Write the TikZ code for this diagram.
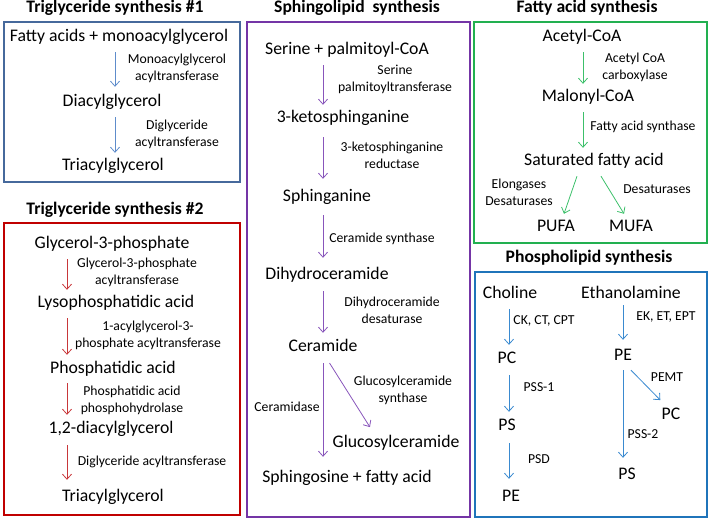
\documentclass[tikz,border=0pt]{standalone}
\usepackage{fontspec}
\setmainfont{Carlito}
\usetikzlibrary{arrows.meta}

\definecolor{tgone}{HTML}{46699C}
\definecolor{tgonearr}{HTML}{5E8CCB}
\definecolor{tgtwo}{HTML}{C00000}
\definecolor{tgtwoarr}{HTML}{C8373A}
\definecolor{sphing}{HTML}{7435A6}
\definecolor{sphingarr}{HTML}{8855BB}
\definecolor{fasyn}{HTML}{22B050}
\definecolor{fasynarr}{HTML}{3CC06A}
\definecolor{phospho}{HTML}{1F74BA}
\definecolor{phosphoarr}{HTML}{3A8AD0}

\begin{document}
\begin{tikzpicture}[x=1pt,y=-1pt,
   cmpd/.style={font=\fontsize{17.7}{21}\selectfont, inner xsep=0pt, inner ysep=6pt, text height=12pt, text depth=4pt},
   enz/.style={font=\fontsize{13.7}{17}\selectfont, align=center, inner sep=0pt},
   ttl/.style={font=\fontsize{17.6}{21}\selectfont\bfseries, inner sep=0pt},
   panel/.style={line width=2.3pt},
   rx/.style={-{Straight Barb[length=5pt,width=9pt]}, line width=0.8pt}]
   \useasboundingbox (0,0) rectangle (709,518);

   % triglyceride synthesis #1
   \node[ttl] (t1) at (115,8) {Triglyceride synthesis \#1};
   \draw[panel, tgone] (4,22) rectangle (240,182);
   \node[cmpd] (fa)  at (119,38)  {Fatty acids + monoacylglycerol};
   \node[cmpd] (dag) at (112,103) {Diacylglycerol};
   \node[cmpd] (tag) at (113,167) {Triacylglycerol};
   \node[enz] (mgat) at (177,68)  {Monoacylglycerol\\acyltransferase};
   \node[enz] (dgat) at (177,134) {Diglyceride\\acyltransferase};
   \coordinate (a1) at (115,0);
   \draw[rx, tgonearr, shorten >=2pt] (fa.south -| a1) -- (dag.north -| a1);
   \draw[rx, tgonearr] (dag.south -| a1) -- (tag.north -| a1);

   % triglyceride synthesis #2
   \node[ttl] (t2) at (115,210) {Triglyceride synthesis \#2};
   \draw[panel, tgtwo] (4,223) rectangle (240,515);
   \node[cmpd] (gp)   at (112,245) {Glycerol-3-phosphate};
   \node[cmpd] (lpa)  at (116,304) {Lysophosphatidic acid};
   \node[cmpd] (pa)   at (113,369) {Phosphatidic acid};
   \node[cmpd] (dagb) at (111,429) {1,2-diacylglycerol};
   \node[cmpd] (tagb) at (113,497) {Triacylglycerol};
   \node[enz] (gpat)  at (137,272) {Glycerol-3-phosphate\\acyltransferase};
   \node[enz] (agpat) at (148,335) {1-acylglycerol-3-\\phosphate acyltransferase};
   \node[enz] (pap)   at (132,400) {Phosphatidic acid\\phosphohydrolase};
   \node[enz] (dgatb) at (152,462) {Diglyceride acyltransferase};
   \coordinate (a2) at (67,0);
   \draw[rx, tgtwoarr] (gp.south -| a2) -- (lpa.north -| a2);
   \draw[rx, tgtwoarr] (lpa.south -| a2) -- (pa.north -| a2);
   \draw[rx, tgtwoarr] (pa.south -| a2) -- (dagb.north -| a2);
   \draw[rx, tgtwoarr, shorten <=2pt, shorten >=3pt] (dagb.south -| a2) -- (tagb.north -| a2);

   % sphingolipid synthesis
   \node[ttl] (t3) at (357,8) {Sphingolipid\ \ synthesis};
   \draw[panel, sphing] (247,22) rectangle (470,517);
   \node[cmpd] (ser)  at (347,51)  {Serine + palmitoyl-CoA};
   \node[cmpd] (kds)  at (343,119) {3-ketosphinganine};
   \node[cmpd] (sph)  at (327,198) {Sphinganine};
   \node[cmpd] (dhc)  at (327,276) {Dihydroceramide};
   \node[cmpd] (cer)  at (323,348) {Ceramide};
   \node[cmpd] (glc)  at (396,443) {Glucosylceramide};
   \node[cmpd] (sfa)  at (347,478) {Sphingosine + fatty acid};
   \node[enz] (spt)   at (395,79)  {Serine\\palmitoyltransferase};
   \node[enz] (kdsr)  at (392,155) {3-ketosphinganine\\reductase};
   \node[enz] (cers)  at (382,239) {Ceramide synthase};
   \node[enz] (des)   at (392,310) {Dihydroceramide\\desaturase};
   \node[enz] (gcs)   at (403,390) {Glucosylceramide\\synthase};
   \node[enz] (cdase) at (287,407) {Ceramidase};
   \coordinate (a3) at (323,0);
   \draw[rx, sphingarr] (ser.south -| a3) -- (kds.north -| a3);
   \draw[rx, sphingarr, shorten <=4pt, shorten >=5pt] (kds.south -| a3) -- (sph.north -| a3);
   \draw[rx, sphingarr, shorten <=3pt, shorten >=4pt] (sph.south -| a3) -- (dhc.north -| a3);
   \draw[rx, sphingarr, shorten <=1pt, shorten >=1pt] (dhc.south -| a3) -- (cer.north -| a3);
   \draw[rx, sphingarr, shorten <=1pt, shorten >=7pt] (cer.south -| a3) -- (sfa.north -| a3);
   \draw[rx, sphingarr, shorten <=1pt, shorten >=2pt] ([xshift=6pt]cer.south) -- ([xshift=-25pt]glc.north);

   % fatty acid synthesis
   \node[ttl] (t4) at (587,8) {Fatty acid synthesis};
   \draw[panel, fasyn] (474,22) rectangle (707,243);
   \node[cmpd] (acoa) at (582,38)  {Acetyl-CoA};
   \node[cmpd] (mcoa) at (588,98)  {Malonyl-CoA};
   \node[cmpd] (sat)  at (594,162) {Saturated fatty acid};
   \node[cmpd] (pufa) at (556,228) {PUFA};
   \node[cmpd] (mufa) at (631,228) {MUFA};
   \node[enz] (acc)  at (635,67)  {Acetyl CoA\\carboxylase};
   \node[enz] (fas)  at (643,127) {Fatty acid synthase};
   \node[enz] (elo)  at (519,192) {Elongases\\Desaturases};
   \node[enz] (desm) at (657,189) {Desaturases};
   \coordinate (a4) at (583,0);
   \draw[rx, fasynarr] (acoa.south -| a4) -- (mcoa.north -| a4);
   \draw[rx, fasynarr] (mcoa.south -| a4) -- (sat.north -| a4);
   \draw[rx, fasynarr] ([xshift=-17pt]sat.south) -- ([xshift=8pt]pufa.north);
   \draw[rx, fasynarr] ([xshift=7pt]sat.south) -- ([xshift=-7pt]mufa.north);

   % phospholipid synthesis
   \node[ttl] (t5) at (589,258) {Phospholipid synthesis};
   \draw[panel, phospho] (475,272) rectangle (707,517);
   \node[cmpd] (cho) at (510,295) {Choline};
   \node[cmpd] (pca) at (507,359) {PC};
   \node[cmpd] (psa) at (507,426) {PS};
   \node[cmpd] (pea) at (511,497) {PE};
   \node[cmpd] (eth) at (631,295) {Ethanolamine};
   \node[cmpd] (peb) at (623,356) {PE};
   \node[cmpd] (pcb) at (671,415) {PC};
   \node[cmpd] (psb) at (627,475) {PS};
   \node[enz] (ckct) at (544,321) {CK, CT, CPT};
   \node[enz] (pss1) at (539,387) {PSS-1};
   \node[enz] (psd)  at (539,459) {PSD};
   \node[enz] (eket) at (666,317) {EK, ET, EPT};
   \node[enz] (pemt) at (667,377) {PEMT};
   \node[enz] (pss2) at (643,434) {PSS-2};
   \coordinate (a5) at (509,0);
   \coordinate (a6) at (623,0);
   \draw[rx, phosphoarr] (cho.south -| a5) -- (pca.north -| a5);
   \draw[rx, phosphoarr, shorten <=2pt] (pca.south -| a5) -- (psa.north -| a5);
   \draw[rx, phosphoarr, shorten <=3pt, shorten >=4pt] (psa.south -| a5) -- (pea.north -| a5);
   \draw[rx, phosphoarr, shorten <=-4pt, shorten >=2pt] (eth.south -| a6) -- (peb.north -| a6);
   \draw[rx, phosphoarr, shorten >=3pt] (peb.south -| a6) -- (psb.north -| a6);
   \draw[rx, phosphoarr, shorten >=1pt] ([xshift=8pt]peb.south) -- ([xshift=-10pt]pcb.north);
\end{tikzpicture}
\end{document}
